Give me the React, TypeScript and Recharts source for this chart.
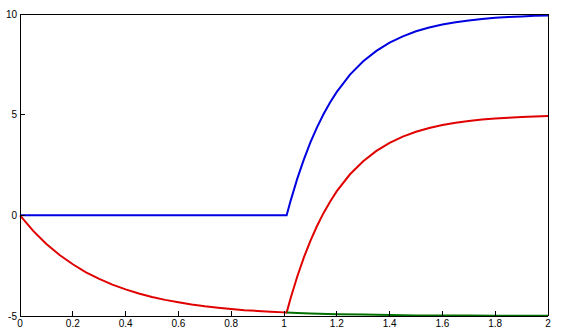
import React from 'react';
import { LineChart, Line, XAxis, YAxis } from 'recharts';

// values
const xTicks = [0, 0.2, 0.4, 0.6, 0.8, 1, 1.2, 1.4, 1.6, 1.8, 2];
const yTicks = [-5, 0, 5, 10];

const xPre = [0, 0.05, 0.1, 0.15, 0.2, 0.25, 0.3, 0.35, 0.4, 0.45, 0.5, 0.55, 0.6, 0.65, 0.7, 0.75, 0.8, 0.85, 0.9, 0.95, 1.0, 1.01];
const redPre = [0, -0.77, -1.42, -1.97, -2.43, -2.83, -3.16, -3.44, -3.68, -3.88, -4.06, -4.2, -4.32, -4.43, -4.52, -4.59, -4.65, -4.71, -4.75, -4.79, -4.82, -4.83];
const bluePre = [0, 0];
const xBluePre = [0, 1.01];

const xPost = [1.01, 1.025, 1.05, 1.075, 1.1, 1.125, 1.15, 1.175, 1.2, 1.25, 1.3, 1.35, 1.4, 1.45, 1.5, 1.55, 1.6, 1.65, 1.7, 1.75, 1.8, 1.85, 1.9, 1.95, 2.0];
const bluePost = [0, 0.72, 1.81, 2.77, 3.62, 4.37, 5.03, 5.62, 6.13, 6.99, 7.65, 8.17, 8.58, 8.89, 9.14, 9.33, 9.48, 9.59, 9.68, 9.75, 9.81, 9.85, 9.88, 9.91, 9.93];
const redPost = [-4.83, -4.12, -3.05, -2.1, -1.27, -0.53, 0.12, 0.69, 1.2, 2.04, 2.69, 3.2, 3.6, 3.91, 4.15, 4.34, 4.49, 4.6, 4.69, 4.76, 4.81, 4.85, 4.89, 4.91, 4.93];

const xGreen = [1.01, 1.05, 1.1, 1.2, 1.3, 1.4, 1.5, 1.6, 1.7, 1.8, 1.9, 2.0];
const green = [-4.83, -4.85, -4.87, -4.91, -4.93, -4.95, -4.97, -4.98, -4.98, -4.99, -4.99, -4.99];

const zip = (xs: number[], ys: number[]) => xs.map((x, i) => ({ x, y: ys[i] }));

const blueData = [...zip(xBluePre, bluePre), ...zip(xPost, bluePost).slice(1)];
const redData = [...zip(xPre, redPre), ...zip(xPost, redPost).slice(1)];
const greenData = zip(xGreen, green);

const FONT = '"Liberation Sans", Arial, sans-serif';
const TICK = 5;
const AXIS_LINE = { stroke: '#000', shapeRendering: 'crispEdges' };

const BottomTick = (props: any) => {
  const { x, y, payload } = props;
  return (
    <g>
      <line x1={x} x2={x} y1={y} y2={y - TICK} stroke="#000" shapeRendering="crispEdges" />
      <text x={x} y={y + 11} textAnchor="middle" fontSize={10} fontFamily={FONT} fill="#000">
        {payload.value}
      </text>
    </g>
  );
};

const TopTick = (props: any) => {
  const { x, y } = props;
  return <line x1={x} x2={x} y1={y} y2={y + TICK} stroke="#000" shapeRendering="crispEdges" />;
};

const LeftTick = (props: any) => {
  const { x, y, payload } = props;
  return (
    <g>
      <line x1={x} x2={x + TICK} y1={y} y2={y} stroke="#000" shapeRendering="crispEdges" />
      <text x={x - 3} y={y} dy="0.35em" textAnchor="end" fontSize={10} fontFamily={FONT} fill="#000">
        {payload.value}
      </text>
    </g>
  );
};

const RightTick = (props: any) => {
  const { x, y } = props;
  return <line x1={x} x2={x - TICK} y1={y} y2={y} stroke="#000" shapeRendering="crispEdges" />;
};

export default function App() {
  return (
    <div style={{ position: 'absolute', left: 0, top: 0, background: '#fff' }}>
      <LineChart width={562} height={335} margin={{ top: 13, right: 13, bottom: 0, left: 0 }}>
        <XAxis
          dataKey="x"
          type="number"
          domain={[0, 2]}
          ticks={xTicks}
          interval={0}
          height={19}
          tickSize={0}
          tickMargin={0}
          tickLine={false}
          axisLine={AXIS_LINE}
          tick={<BottomTick />}
        />
        <XAxis
          xAxisId="top"
          orientation="top"
          dataKey="x"
          type="number"
          domain={[0, 2]}
          ticks={xTicks}
          interval={0}
          height={1}
          tickSize={0}
          tickMargin={0}
          tickLine={false}
          axisLine={AXIS_LINE}
          tick={<TopTick />}
        />
        <YAxis
          type="number"
          domain={[-5, 10]}
          ticks={yTicks}
          interval={0}
          width={20}
          tickSize={0}
          tickMargin={0}
          tickLine={false}
          axisLine={AXIS_LINE}
          tick={<LeftTick />}
        />
        <YAxis
          yAxisId="right"
          orientation="right"
          type="number"
          domain={[-5, 10]}
          ticks={yTicks}
          interval={0}
          width={1}
          tickSize={0}
          tickMargin={0}
          tickLine={false}
          axisLine={AXIS_LINE}
          tick={<RightTick />}
        />
        <Line data={blueData} dataKey="y" type="linear" stroke="#0000e0" strokeWidth={2} dot={false} isAnimationActive={false} />
        <Line data={redData} dataKey="y" type="linear" stroke="#e00000" strokeWidth={2} dot={false} isAnimationActive={false} />
        <Line data={greenData} dataKey="y" type="linear" stroke="#007000" strokeWidth={2} dot={false} isAnimationActive={false} />
      </LineChart>
    </div>
  );
}
